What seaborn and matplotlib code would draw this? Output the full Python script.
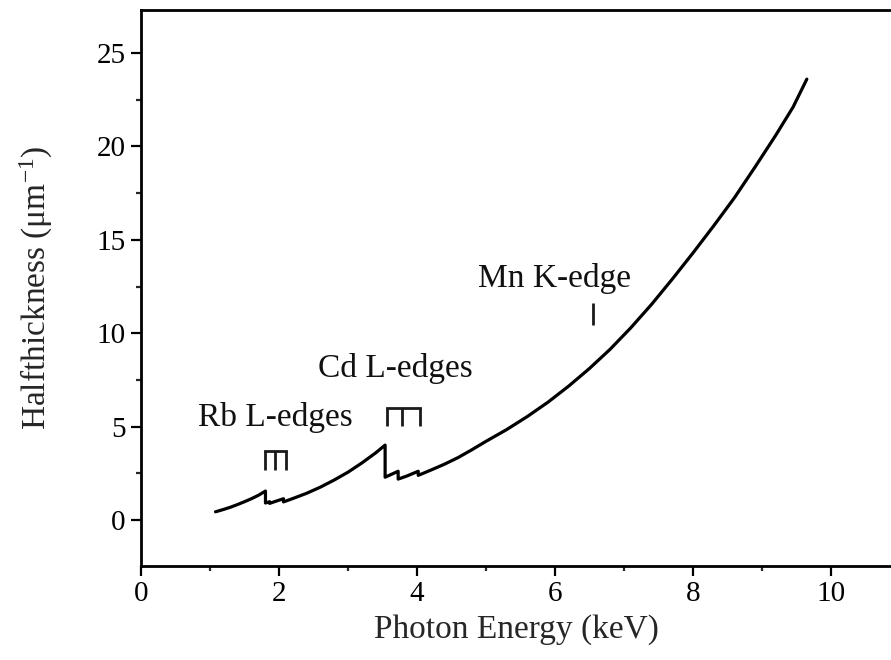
import matplotlib
matplotlib.use("Agg")
import matplotlib.pyplot as plt
import seaborn as sns
import pandas as pd
from matplotlib.ticker import MultipleLocator

# ---- data ----
energy_keV = [1.08, 1.20, 1.30, 1.40, 1.50, 1.60, 1.70, 1.804, 1.804, 1.864, 1.864,
              1.95, 2.065, 2.065, 2.20, 2.40, 2.60, 2.80, 3.00, 3.20, 3.40, 3.538,
              3.538, 3.727, 3.727, 3.85, 4.018, 4.018, 4.20, 4.40, 4.60, 4.80, 5.00,
              5.30, 5.60, 5.90, 6.20, 6.50, 6.80, 7.10, 7.40, 7.70, 8.00, 8.30,
              8.60, 8.90, 9.20, 9.45, 9.65]
halfthickness = [0.45, 0.58, 0.70, 0.84, 0.99, 1.15, 1.33, 1.56, 0.92, 0.99, 0.90,
                 1.01, 1.15, 0.98, 1.16, 1.44, 1.77, 2.15, 2.57, 3.06, 3.60, 4.02,
                 2.30, 2.62, 2.20, 2.36, 2.62, 2.40, 2.68, 3.00, 3.36, 3.78, 4.22,
                 4.85, 5.55, 6.32, 7.18, 8.12, 9.15, 10.30, 11.55, 12.90, 14.30, 15.75,
                 17.25, 18.90, 20.60, 22.10, 23.60]

rb_edges = [1.79, 1.94, 2.10]
rb_bracket = (2.66, 3.68)
cd_edges = [3.56, 3.78, 4.04]
cd_bracket = (5.02, 6.00)
mn_edge = 6.55
mn_mark = (10.45, 11.60)

labels = ["Rb L-edges", "Cd L-edges", "Mn K-edge"]
label_x = [1.95, 3.69, 5.99]
label_y = [5.02, 7.66, 12.47]

x_ticks = [0, 2, 4, 6, 8, 10]
y_ticks = [0, 5, 10, 15, 20, 25]

# ---- style ----
sns.set_theme(style="ticks")
plt.rcParams["font.family"] = ["Liberation Serif", "DejaVu Serif"]
plt.rcParams["mathtext.fontset"] = "custom"
plt.rcParams["mathtext.rm"] = "Liberation Serif"
plt.rcParams["mathtext.it"] = "Liberation Serif:italic"
plt.rcParams["mathtext.default"] = "regular"

fig = plt.figure(figsize=(8.91, 6.6), dpi=100)
ax = fig.add_axes([141 / 891, 1 - 566 / 660, 750 / 891, 556 / 660])

df = pd.DataFrame({"E": energy_keV, "H": halfthickness})
sns.lineplot(data=df, x="E", y="H", sort=False, estimator=None,
             color="black", linewidth=2.3, ax=ax)

mark_col = "#1a1a1a"
for edges, (lo, hi) in [(rb_edges, rb_bracket), (cd_edges, cd_bracket)]:
    for e in edges:
        ax.plot([e, e], [lo, hi], color=mark_col, lw=2.0, solid_capstyle="butt")
    ax.plot([edges[0], edges[-1]], [hi, hi], color=mark_col, lw=2.0,
            solid_capstyle="projecting")
ax.plot([mn_edge, mn_edge], list(mn_mark), color=mark_col, lw=2.0,
        solid_capstyle="butt")

for t, x, y in zip(labels, label_x, label_y):
    ax.text(x, y, t, ha="center", va="baseline", fontsize=24, color="#111111")

ax.set_xlim(0, 10.87)
ax.set_ylim(-2.45, 27.3)
ax.set_xticks(x_ticks)
ax.set_yticks(y_ticks)
ax.xaxis.set_minor_locator(MultipleLocator(1))
ax.yaxis.set_minor_locator(MultipleLocator(2.5))
ax.tick_params(which="major", direction="out", length=7, width=1.6,
               labelsize=21, pad=4, colors="black")
ax.tick_params(which="minor", direction="out", length=3.5, width=1.6)
ax.tick_params(top=False, right=False, which="both")

ax.set_xlabel("Photon Energy (keV)", fontsize=24, labelpad=5)
ax.set_ylabel("Halfthickness (μm$^{-1}$)", fontsize=24, labelpad=30)

for side in ["left", "bottom", "top"]:
    ax.spines[side].set_linewidth(2.0)
    ax.spines[side].set_color("black")
ax.spines["right"].set_visible(False)
ax.grid(False)
ax.set_facecolor("white")
fig.patch.set_facecolor("white")

fig.savefig("out.png", dpi=100, facecolor="white")
